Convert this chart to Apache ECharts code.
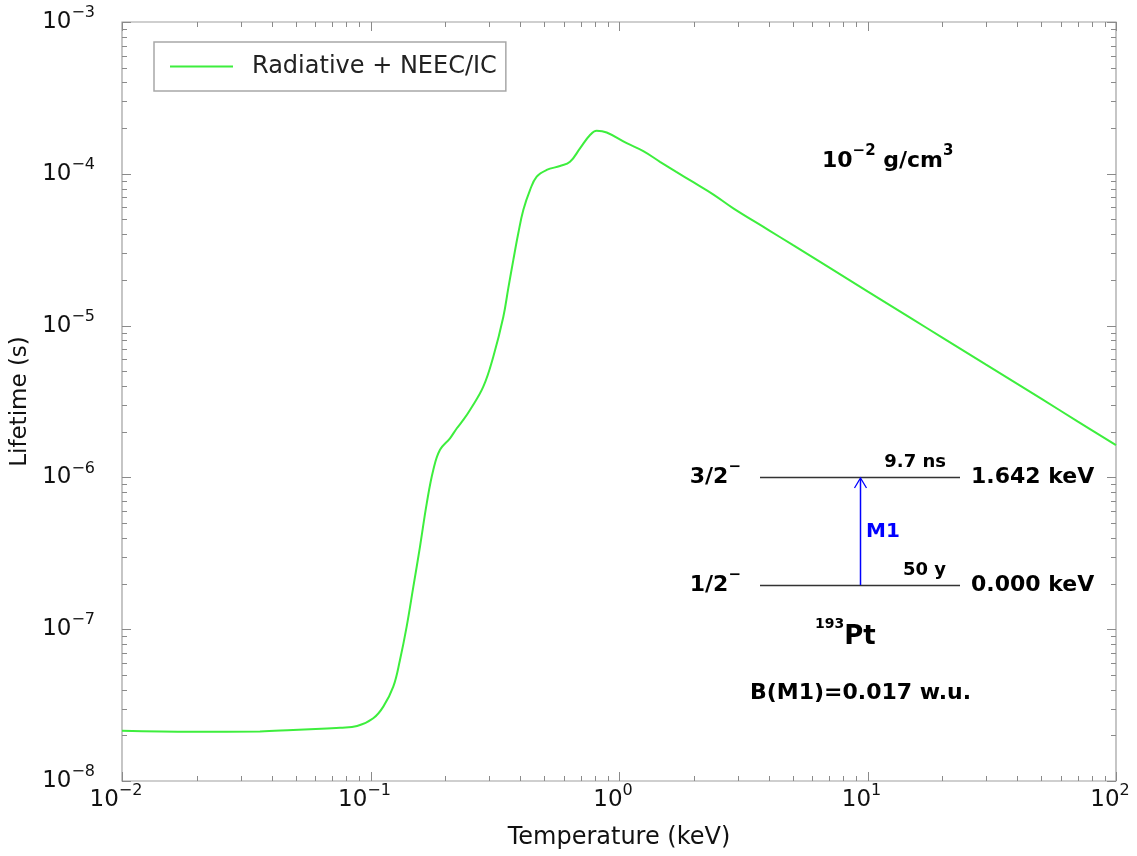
<!DOCTYPE html>
<html><head><meta charset="utf-8">
<script src="https://cdn.jsdelivr.net/npm/echarts@6/dist/echarts.min.js"></script>
<style>html,body{margin:0;padding:0;background:#fff}#c{width:1137px;height:856px}</style>
</head><body><div id="c"></div>
<script>
const temperature = [0.01, 0.0193, 0.0359, 0.0488, 0.0668, 0.0754, 0.0883, 0.1026, 0.1126, 0.1235,
  0.1314, 0.1398, 0.1487, 0.1582, 0.1684, 0.1789, 0.1904, 0.2089, 0.2222, 0.2362,
  0.2514, 0.2844, 0.312, 0.3423, 0.3584, 0.3755, 0.3933, 0.412, 0.4384, 0.4665,
  0.5117, 0.5789, 0.6351, 0.6966, 0.7646, 0.8131, 0.8923, 1.074, 1.2525, 1.462,
  1.7, 1.991, 2.4, 2.884, 4, 5, 7, 10, 15, 20, 30, 50, 70, 100];
const lifetime = [2.14e-8, 2.11e-8, 2.12e-8, 2.17e-8, 2.22e-8, 2.24e-8, 2.30e-8, 2.59e-8, 3.09e-8, 4.18e-8,
  6.27e-8, 1.04e-7, 1.9e-7, 3.5e-7, 6.75e-7, 1.12e-6, 1.52e-6, 1.81e-6, 2.1e-6, 2.39e-6,
  2.78e-6, 3.96e-6, 6.24e-6, 1.14e-5, 1.76e-5, 2.7e-5, 4.06e-5, 5.77e-5, 7.82e-5, 9.57e-5,
  1.06e-4, 1.125e-4, 1.2e-4, 1.47e-4, 1.8e-4, 1.92e-4, 1.87e-4, 1.59e-4, 1.41e-4, 1.2e-4,
  1.03e-4, 8.8e-5, 7.3e-5, 5.92e-5, 4.26e-5, 3.4e-5, 2.42e-5, 1.68e-5, 1.115e-5, 8.34e-6,
  5.53e-6, 3.3e-6, 2.34e-6, 1.63e-6];
const xDecades = [0.01, 0.1, 1, 10, 100];
const yDecades = [1e-8, 1e-7, 1e-6, 1e-5, 1e-4, 1e-3];
const seriesName = 'Radiative + NEEC/IC';
const xAxisTitle = 'Temperature (keV)';
const yAxisTitle = 'Lifetime (s)';

const FONT = 'DejaVu Sans';
const chart = echarts.init(document.getElementById('c'), null, {renderer: 'canvas'});

function expLabel(v) {
  const e = Math.round(Math.log10(v));
  return '{b|10}{s|' + String(e).replace('-', '\u2212') + '}';
}
const tickRich = {
  b: {fontFamily: FONT, fontSize: 23, color: '#111', lineHeight: 34},
  s: {fontFamily: FONT, fontSize: 16, color: '#111', lineHeight: 16, verticalAlign: 'top'}
};

const option = {
  animation: false,
  backgroundColor: '#fff',
  grid: {left: 122, right: 21, top: 22, bottom: 75, show: true, borderColor: '#a0a0a0', borderWidth: 1.2},
  legend: {
    left: 154, top: 42, padding: [11, 9, 11, 16],
    itemWidth: 63, itemHeight: 2, icon: 'rect',
    borderColor: '#a8a8a8', borderWidth: 1.5, backgroundColor: '#fff',
    textStyle: {fontFamily: FONT, fontSize: 24, color: '#222', lineHeight: 27, padding: [0, 0, 0, 14]},
    data: [seriesName]
  },
  xAxis: {
    type: 'log', logBase: 10, min: xDecades[0], max: xDecades[xDecades.length - 1],
    axisLine: {show: false}, axisTick: {show: false}, splitLine: {show: false}, minorTick: {show: false},
    axisLabel: {formatter: expLabel, margin: 2, padding: [0, 12, 0, 0], rich: tickRich},
    name: xAxisTitle, nameLocation: 'middle', nameGap: 45,
    nameTextStyle: {fontFamily: FONT, fontSize: 24, color: '#111'}
  },
  yAxis: {
    type: 'log', logBase: 10, min: yDecades[0], max: yDecades[yDecades.length - 1],
    axisLine: {show: false}, axisTick: {show: false}, splitLine: {show: false}, minorTick: {show: false},
    axisLabel: {formatter: expLabel, margin: 27, rich: tickRich},
    name: yAxisTitle, nameLocation: 'middle', nameGap: 87, nameRotate: 90,
    nameTextStyle: {fontFamily: FONT, fontSize: 23, color: '#111'}
  },
  series: [{
    name: seriesName, type: 'line', symbol: 'none', showSymbol: false, smooth: 0.4,
    data: temperature.map((t, i) => [t, lifetime[i]]),
    lineStyle: {color: '#3dee3d', width: 2}, itemStyle: {color: '#3dee3d'}
  }]
};
chart.setOption(option);

// ticks on all four sides, positioned through the axes' own scales
const g = [];
const tickColor = '#8a8a8a';
const xL = chart.convertToPixel({xAxisIndex: 0}, xDecades[0]);
const xR = chart.convertToPixel({xAxisIndex: 0}, xDecades[xDecades.length - 1]);
const yB = chart.convertToPixel({yAxisIndex: 0}, yDecades[0]);
const yT = chart.convertToPixel({yAxisIndex: 0}, yDecades[yDecades.length - 1]);
function addLine(x1, y1, x2, y2, color, w) {
  g.push({type: 'line', silent: true, z: 5, shape: {x1, y1, x2, y2}, style: {stroke: color, lineWidth: w}});
}
for (let d = 0; d < xDecades.length; d++) {
  for (let k = 1; k <= 9; k++) {
    const v = xDecades[d] * k;
    if (v > xDecades[xDecades.length - 1] * 1.0001) break;
    const px = Math.round(chart.convertToPixel({xAxisIndex: 0}, v)) + 0.5;
    const len = k === 1 ? 9 : 5;
    addLine(px, yB, px, yB - len, tickColor, 1);
    addLine(px, yT, px, yT + len, tickColor, 1);
  }
}
for (let d = 0; d < yDecades.length; d++) {
  for (let k = 1; k <= 9; k++) {
    const v = yDecades[d] * k;
    if (v > yDecades[yDecades.length - 1] * 1.0001) break;
    const py = Math.round(chart.convertToPixel({yAxisIndex: 0}, v)) + 0.5;
    const len = k === 1 ? 9 : 5;
    addLine(xL, py, xL + len, py, tickColor, 1);
    addLine(xR, py, xR - len, py, tickColor, 1);
  }
}

// level scheme annotation
const bold = (size, extra) => Object.assign({fontFamily: FONT, fontWeight: 'bold', fontSize: size}, extra || {});
addLine(760, 477.5, 960, 477.5, '#333', 1.5);
addLine(760, 585.5, 960, 585.5, '#333', 1.5);
addLine(860.5, 585, 860.5, 479, '#0000ff', 1.5);
g.push({type: 'polyline', silent: true, z: 6, shape: {points: [[854.5, 488], [860.5, 478], [866.5, 488]]}, style: {stroke: '#0000ff', lineWidth: 1.3, fill: null}});

function addText(x, y, text, rich, align, fill) {
  g.push({type: 'text', silent: true, z: 6, x, y, style: {
    text, rich, align: align || 'left', verticalAlign: 'middle', fill: fill || '#000',
    fontFamily: FONT, fontWeight: 'bold', fontSize: 22
  }});
}
const levRich = {b: bold(22, {lineHeight: 34}), s: bold(15, {lineHeight: 15, verticalAlign: 'top'})};
addText(741, 477, '{b|3/2}{s|\u2212}', levRich, 'right');
addText(741, 585, '{b|1/2}{s|\u2212}', levRich, 'right');
addText(971, 477, '{b|1.642 keV}', levRich, 'left');
addText(971, 585, '{b|0.000 keV}', levRich, 'left');
addText(946, 462, '{m|9.7 ns}', {m: bold(18)}, 'right');
addText(946, 570, '{m|50 y}', {m: bold(18)}, 'right');
addText(866, 532, '{m|M1}', {m: bold(20, {fill: '#0000ff'})}, 'left', '#0000ff');
addText(815, 637, '{s|193}{p|Pt}', {s: bold(14, {lineHeight: 14, verticalAlign: 'top'}), p: bold(26, {lineHeight: 40})}, 'left');
addText(750, 693, '{b|B(M1)=0.017 w.u.}', {b: bold(22)}, 'left');
addText(822, 161, '{b|10}{s|\u22122}{b| g/cm}{s|3}', {b: bold(22, {lineHeight: 34}), s: bold(15, {lineHeight: 15, verticalAlign: 'top'})}, 'left');

chart.setOption({graphic: g});
</script>
</body></html>
